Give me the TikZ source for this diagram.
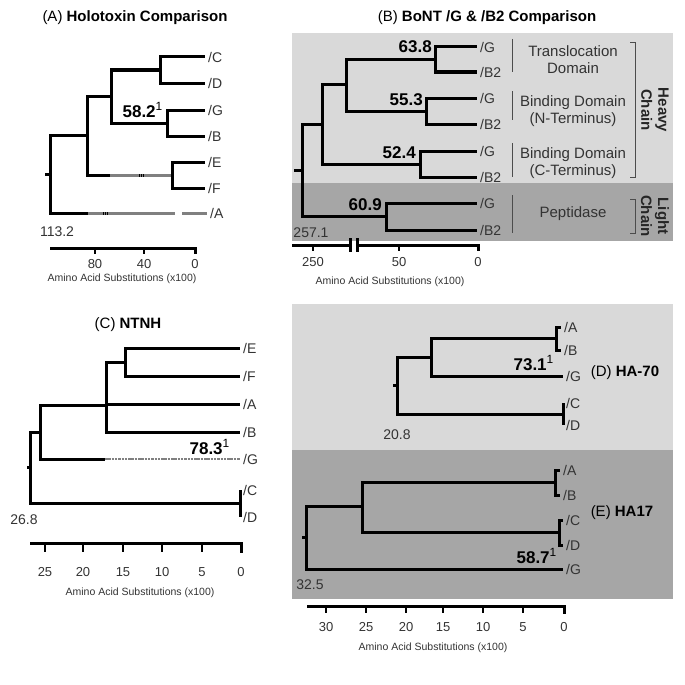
\documentclass[tikz,border=0pt]{standalone}
\usepackage{fontspec}
\setmainfont{Liberation Sans}
\usetikzlibrary{positioning, calc}

\begin{document}
\begin{tikzpicture}[
    x=1pt, y=-1pt,
    every node/.style={inner sep=0pt, text=black!80},
    branch/.style={line width=3pt},
    graybranch/.style={line width=3pt, draw=black!50},
    hatch/.style={line width=3pt, dash pattern=on 1pt off 0.8pt},
    dashbranch/.style={line width=2.6pt, draw=black!50, dash pattern=on 2.5pt off 0.8pt},
    leaf/.style={anchor=west, inner sep=3pt, font=\fontsize{14}{16}\selectfont},
    support/.style={anchor=base east, text=black, font=\fontsize{17}{19}\selectfont},
    title/.style={text=black, font=\fontsize{15}{17}\selectfont},
    total/.style={font=\fontsize{14}{16}\selectfont},
    ticklabel/.style={font=\fontsize{13}{15}\selectfont},
    axislabel/.style={font=\fontsize{10.5}{12}\selectfont},
    axis/.style={line width=3pt},
    tick/.style={line width=1.3pt},
    sep/.style={line width=0.9pt, draw=black!70},
    domaintext/.style={align=center, font=\fontsize{15}{17}\selectfont},
    chain/.style={align=center, rotate=-90, text=black!85, font=\fontsize{15}{17}\selectfont\bfseries},
]
\useasboundingbox (0,0) rectangle (685,685);

% Backgrounds
\fill[black!15] (292,33) rectangle (673,183);
\fill[black!35] (292,183) rectangle (673,241);
\fill[black!15] (292,304) rectangle (673,450);
\fill[black!35] (292,450) rectangle (673,599);

% Panel A
\node[title] (aTitle) at (135,18) {(A) \textbf{Holotoxin Comparison}};
\coordinate (aR) at (50,174);
\coordinate (aN1) at (87,135);
\coordinate (aN2) at (111,96);
\coordinate (aCD) at (160,70);
\coordinate (aGB) at (167,123);
\coordinate (aEF) at (172,175);
\coordinate (aEFa) at (110,175);
\coordinate (aAa) at (88,213);
\coordinate (aAb) at (175,213);
\coordinate (aAc) at (182,213);
\node[leaf] (aC) at (205,57) {/C};
\node[leaf] (aD) at (205,83) {/D};
\node[leaf] (aG) at (205,110) {/G};
\node[leaf] (aB) at (205,136) {/B};
\node[leaf] (aE) at (205,162) {/E};
\node[leaf] (aF) at (205,188) {/F};
\node[leaf] (aA) at (207,213) {/A};

\draw[branch] ($(aR)+(-5,0)$) -- (aR);
\draw[branch] (aR) |- (aN1);
\draw[branch] (aR) |- (aAa);
\draw[graybranch] (aAa) -- (aAb);
\draw[graybranch] (aAc) -- (aA.west);
\draw[hatch] (103,213) -- (108,213);
\draw[branch] (aN1) |- (aN2);
\draw[branch] (aN1) |- (aEFa);
\draw[graybranch] (aEFa) -- (aEF);
\draw[hatch] (139,175) -- (144,175);
\draw[branch] (aN2) |- (aCD);
\draw[branch] (aN2) |- (aGB);
\draw[branch] (aCD) |- (aC.west);
\draw[branch] (aCD) |- (aD.west);
\draw[branch] (aGB) |- (aG.west);
\draw[branch] (aGB) |- (aB.west);
\draw[branch] (aEF) |- (aE.west);
\draw[branch] (aEF) |- (aF.west);

\node[support] (aS) at ($(aGB)+(-4,-6)$) {\textbf{58.2}\textsuperscript{1}};
\node[total] (aTot) at (57,232) {113.2};

\draw[axis] (50,248) -- (195,248) -- (195,254);
\draw[tick] (95,248) -- (95,254) node[ticklabel, below=5pt] (aT80) {80};
\draw[tick] (144,248) -- (144,254) node[ticklabel, below=5pt] (aT40) {40};
\node[ticklabel, below=5pt] (aT0) at (195,254) {0};
\node[axislabel] (aAxis) at (122,279) {Amino Acid Substitutions (x100)};

% Panel B
\node[title] (bTitle) at (487,18) {(B) \textbf{BoNT /G \& /B2 Comparison}};
\coordinate (bR) at (302,170);
\coordinate (bN1) at (322,124);
\coordinate (bN2) at (346,84);
\coordinate (bTr) at (435,59.5);
\coordinate (bNt) at (426,111);
\coordinate (bCt) at (420,164);
\coordinate (bPep) at (386,216.5);
\node[leaf] (bTrG) at (477,47) {/G};
\node[leaf] (bTrB) at (477,72) {/B2};
\node[leaf] (bNtG) at (477,98) {/G};
\node[leaf] (bNtB) at (477,124) {/B2};
\node[leaf] (bCtG) at (477,151) {/G};
\node[leaf] (bCtB) at (477,177) {/B2};
\node[leaf] (bPepG) at (477,203) {/G};
\node[leaf] (bPepB) at (477,230) {/B2};

\draw[branch] ($(bR)+(-8,0)$) -- (bR);
\draw[branch] (bR) |- (bN1);
\draw[branch] (bR) |- (bPep);
\draw[branch] (bN1) |- (bN2);
\draw[branch] (bN1) |- (bCt);
\draw[branch] (bN2) |- (bTr);
\draw[branch] (bN2) |- (bNt);
\draw[branch] (bTr) |- (bTrG.west);
\draw[branch] (bTr) |- (bTrB.west);
\draw[branch] (bNt) |- (bNtG.west);
\draw[branch] (bNt) |- (bNtB.west);
\draw[branch] (bCt) |- (bCtG.west);
\draw[branch] (bCt) |- (bCtB.west);
\draw[branch] (bPep) |- (bPepG.west);
\draw[branch] (bPep) |- (bPepB.west);

\node[support] (bSTr) at ($(bTr)+(-3,-7)$) {\textbf{63.8}};
\node[support] (bSNt) at ($(bNt)+(-3,-6)$) {\textbf{55.3}};
\node[support] (bSCt) at ($(bCt)+(-4,-6)$) {\textbf{52.4}};
\node[support] (bSPep) at ($(bPep)+(-4,-6)$) {\textbf{60.9}};
\node[total] (bTot) at (311,233) {257.1};

% Domains
\draw[sep] (512,39) -- (512,72);
\draw[sep] (512,91) -- (512,120);
\draw[sep] (512,143) -- (512,177);
\draw[sep] (512,195) -- (512,233);
\node[domaintext] (bTrans) at (573,60) {Translocation\\Domain};
\node[domaintext] (bNterm) at (573,111) {Binding Domain\\(N-Terminus)};
\node[domaintext] (bCterm) at (573,163) {Binding Domain\\(C-Terminus)};
\node[domaintext] (bPepti) at (573,214) {Peptidase};
\draw[sep] (630,42) -- (635,42) -- (635,177) -- (630,177);
\draw[sep] (630,199) -- (635,199) -- (635,233) -- (630,233);
\node[chain] (bHeavy) at (655,110) {Heavy\\Chain};
\node[chain] (bLight) at (655,216) {Light\\Chain};

\draw[axis] (292,245) -- (350,245);
\draw[axis] (357,245) -- (478,245) -- (478,251);
\draw[axis] (350,238) -- (350,252);
\draw[axis] (357,238) -- (357,252);
\draw[tick] (313,245) -- (313,251) node[ticklabel, below=6pt] (bT250) {250};
\draw[tick] (399,245) -- (399,251) node[ticklabel, below=6pt] (bT50) {50};
\node[ticklabel, below=6pt] (bT0) at (478,251) {0};
\node[axislabel] (bAxis) at (390,282) {Amino Acid Substitutions (x100)};

% Panel C
\node[title] (cTitle) at (128,325) {(C) \textbf{NTNH}};
\coordinate (cR) at (30,467);
\coordinate (cN1) at (40,432);
\coordinate (cN2) at (106,405);
\coordinate (cEF) at (125,362);
\coordinate (cCD) at (240,503);
\coordinate (cGa) at (105,459);
\node[leaf] (cE) at (240,348) {/E};
\node[leaf] (cF) at (240,376) {/F};
\node[leaf] (cA) at (240,404) {/A};
\node[leaf] (cB) at (240,432) {/B};
\node[leaf] (cG) at (240,459) {/G};
\node[leaf] (cC) at (240,490) {/C};
\node[leaf] (cD) at (240,517) {/D};

\draw[branch] ($(cR)+(-3,0)$) -- (cR);
\draw[branch] (cR) |- (cN1);
\draw[branch] (cR) |- (cCD);
\draw[branch] (cN1) |- (cN2);
\draw[branch] (cN1) |- (cGa);
\draw[dashbranch] (cGa) -- (cG.west);
\draw[branch] (cN2) |- (cEF);
\draw[branch] (cN2) |- (cA.west);
\draw[branch] (cN2) |- (cB.west);
\draw[branch] (cEF) |- (cE.west);
\draw[branch] (cEF) |- (cF.west);
\draw[branch] (cCD) |- (cC.west);
\draw[branch] (cCD) |- (cD.west);

\node[support] (cS) at ($(cG.west)+(-10,-5)$) {\textbf{78.3}\textsuperscript{1}};
\node[total] (cTot) at (24,520) {26.8};

\draw[axis] (30,543) -- (241,543) -- (241,553);
\draw[tick] (45,543) -- (45,552) node[ticklabel, below=15pt] (cT25) {25};
\draw[tick] (83,543) -- (83,552) node[ticklabel, below=15pt] (cT20) {20};
\draw[tick] (123,543) -- (123,552) node[ticklabel, below=15pt] (cT15) {15};
\draw[tick] (162,543) -- (162,552) node[ticklabel, below=15pt] (cT10) {10};
\draw[tick] (202,543) -- (202,552) node[ticklabel, below=15pt] (cT5) {5};
\node[ticklabel, below=15pt] (cT0) at (241,552) {0};
\node[axislabel] (cAxis) at (140,593) {Amino Acid Substitutions (x100)};

% Panel D
\coordinate (dR) at (397,385);
\coordinate (dN1) at (431,357);
\coordinate (dAB) at (556,338);
\coordinate (dCD) at (563,414);
\node[leaf] (dA) at (561,327) {/A};
\node[leaf] (dB) at (561,350) {/B};
\node[leaf] (dG) at (563,376) {/G};
\node[leaf] (dC) at (563,403) {/C};
\node[leaf] (dD) at (563,425) {/D};

\draw[branch] ($(dR)+(-4,0)$) -- (dR);
\draw[branch] (dR) |- (dN1);
\draw[branch] (dR) |- (dCD);
\draw[branch] (dN1) |- (dAB);
\draw[branch] (dN1) |- (dG.west);
\draw[branch] (dAB) |- (dA.west);
\draw[branch] (dAB) |- (dB.west);
\draw[branch] (dCD) |- (dC.west);
\draw[branch] (dCD) |- (dD.west);

\node[support] (dS) at ($(dG.west)+(-9,-6)$) {\textbf{73.1}\textsuperscript{1}};
\node[total] (dTot) at (397,435) {20.8};
\node[title] (dTitle) at (625,373) {(D) \textbf{HA-70}};

% Panel E
\coordinate (eR) at (306,537);
\coordinate (eN1) at (362,506);
\coordinate (eAB) at (555,482);
\coordinate (eCD) at (559,532);
\node[leaf] (eA) at (560,470) {/A};
\node[leaf] (eB) at (560,495) {/B};
\node[leaf] (eC) at (563,520) {/C};
\node[leaf] (eD) at (563,545) {/D};
\node[leaf] (eG) at (563,569) {/G};

\draw[branch] ($(eR)+(-4,0)$) -- (eR);
\draw[branch] (eR) |- (eN1);
\draw[branch] (eR) |- (eG.west);
\draw[branch] (eN1) |- (eAB);
\draw[branch] (eN1) |- (eCD);
\draw[branch] (eAB) |- (eA.west);
\draw[branch] (eAB) |- (eB.west);
\draw[branch] (eCD) |- (eC.west);
\draw[branch] (eCD) |- (eD.west);

\node[support] (eS) at ($(eG.west)+(-6,-6)$) {\textbf{58.7}\textsuperscript{1}};
\node[total] (eTot) at (310,585) {32.5};
\node[title] (eTitle) at (622,513) {(E) \textbf{HA17}};

\draw[axis] (307,606) -- (564,606) -- (564,614);
\draw[tick] (326,606) -- (326,613) node[ticklabel, below=9pt] (eT30) {30};
\draw[tick] (366,606) -- (366,613) node[ticklabel, below=9pt] (eT25) {25};
\draw[tick] (406,606) -- (406,613) node[ticklabel, below=9pt] (eT20) {20};
\draw[tick] (443,606) -- (443,613) node[ticklabel, below=9pt] (eT15) {15};
\draw[tick] (483,606) -- (483,613) node[ticklabel, below=9pt] (eT10) {10};
\draw[tick] (523,606) -- (523,613) node[ticklabel, below=9pt] (eT5) {5};
\node[ticklabel, below=9pt] (eT0) at (564,613) {0};
\node[axislabel] (eAxis) at (433,648) {Amino Acid Substitutions (x100)};

\end{tikzpicture}
\end{document}
